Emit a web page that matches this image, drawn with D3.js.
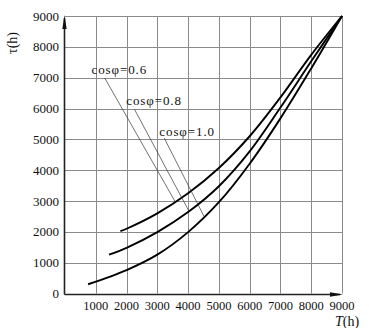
<!DOCTYPE html>
<html>
<head>
<meta charset="utf-8">
<script src="https://cdn.jsdelivr.net/npm/d3@7"></script>
<style>
  html, body { margin: 0; padding: 0; background: #fff; }
  svg { display: block; }
  text { font-family: "Liberation Serif", "DejaVu Serif", serif; fill: #111; }
</style>
</head>
<body>
<svg id="chart" width="369" height="328"></svg>
<script>
// ---- data ----
const xTicks = [1000, 2000, 3000, 4000, 5000, 6000, 7000, 8000, 9000];
const yTicks = [0, 1000, 2000, 3000, 4000, 5000, 6000, 7000, 8000, 9000];
const seriesNames = ["cosφ=0.6", "cosφ=0.8", "cosφ=1.0"];
const curve06 = [[1800, 2020], [2000, 2100], [3000, 2600], [4000, 3250], [5000, 4070], [6000, 5100], [7000, 6360], [8000, 7740], [9000, 9000]];
const curve08 = [[1430, 1260], [2000, 1480], [3000, 1990], [4000, 2640], [5000, 3480], [6000, 4610], [7000, 6030], [8000, 7530], [9000, 9000]];
const curve10 = [[750, 300], [2000, 760], [3000, 1260], [4000, 1990], [5000, 2960], [6000, 4210], [7000, 5680], [8000, 7300], [9000, 9000]];
const seriesData = [curve06, curve08, curve10];
// label anchor (T, τ) of each annotation, start of its leader line, and T where the leader meets the curve
const labelAt = [[860, 7120], [1990, 6110], [3065, 5105]];
const leaderStart = [[1290, 6990], [2260, 5970], [3225, 5040]];
const leaderEndT = [3580, 4030, 4520];

// ---- chart ----
const svg = d3.select("#chart");
const x = d3.scaleLinear().domain([0, 9000]).range([65, 342]);
const y = d3.scaleLinear().domain([0, 9000]).range([293.5, 16]);

const gridColor = "#8a8a8a";
const g = svg.append("g");

// grid lines
g.selectAll("line.vgrid").data(xTicks).join("line")
  .attr("x1", d => Math.round(x(d)) + 0.5).attr("x2", d => Math.round(x(d)) + 0.5)
  .attr("y1", y(9000)).attr("y2", y(0))
  .attr("stroke", gridColor).attr("stroke-width", 1);
g.selectAll("line.hgrid").data(yTicks.filter(d => d > 0)).join("line")
  .attr("x1", x(0)).attr("x2", x(9000))
  .attr("y1", d => Math.round(y(d)) + 0.5).attr("y2", d => Math.round(y(d)) + 0.5)
  .attr("stroke", gridColor).attr("stroke-width", 1);

// axes (left & bottom), darker
const x0 = Math.round(x(0)) - 0.5;
const y0 = Math.round(y(0)) + 0.5;
g.append("line").attr("x1", x0).attr("x2", x0).attr("y1", y(9000) + 2).attr("y2", y0)
  .attr("stroke", "#222").attr("stroke-width", 1.6);
g.append("line").attr("x1", x0).attr("x2", x(9000) - 2).attr("y1", y0).attr("y2", y0)
  .attr("stroke", "#222").attr("stroke-width", 1.6);
// arrowheads
g.append("path")
  .attr("d", `M${x0},${y(9000) - 1} L${x0 - 2.2},${y(9000) + 13} L${x0 + 2.2},${y(9000) + 13} Z`)
  .attr("fill", "#111");
g.append("path")
  .attr("d", `M${x(9000) + 1},${y0} L${x(9000) - 12},${y0 - 2.2} L${x(9000) - 12},${y0 + 2.2} Z`)
  .attr("fill", "#111");

// y tick labels
g.selectAll("text.ytick").data(yTicks).join("text")
  .attr("x", x(0) - 6).attr("y", d => y(d) + 4.5)
  .attr("text-anchor", "end").attr("font-size", 13)
  .text(d => d);
// x tick labels
g.selectAll("text.xtick").data(xTicks).join("text")
  .attr("x", d => x(d)).attr("y", 309.5)
  .attr("text-anchor", "middle").attr("font-size", 12.5)
  .text(d => d);

// axis titles
svg.append("text")
  .attr("transform", "translate(17,43) rotate(-90)")
  .attr("text-anchor", "middle").attr("font-size", 14)
  .text("τ(h)");
const tt = svg.append("text").attr("x", 347).attr("y", 326)
  .attr("text-anchor", "middle").attr("font-size", 14);
tt.append("tspan").attr("font-style", "italic").text("T");
tt.append("tspan").text("(h)");

// curves
const line = d3.line().x(d => x(d[0])).y(d => y(d[1])).curve(d3.curveCatmullRom.alpha(0.5));
g.selectAll("path.curve").data(seriesData).join("path")
  .attr("d", line)
  .attr("fill", "none").attr("stroke", "#000").attr("stroke-width", 1.9);

// leader lines & labels
function tauAt(data, T) {
  for (let i = 1; i < data.length; i++) {
    if (T <= data[i][0]) {
      const a = data[i - 1], b = data[i];
      return a[1] + (b[1] - a[1]) * (T - a[0]) / (b[0] - a[0]);
    }
  }
  return data[data.length - 1][1];
}
seriesNames.forEach((name, i) => {
  const endT = leaderEndT[i];
  g.append("line")
    .attr("x1", x(leaderStart[i][0])).attr("y1", y(leaderStart[i][1]))
    .attr("x2", x(endT)).attr("y2", y(tauAt(seriesData[i], endT)))
    .attr("stroke", "#333").attr("stroke-width", 0.7);
  g.append("text")
    .attr("x", x(labelAt[i][0])).attr("y", y(labelAt[i][1]))
    .attr("font-size", 13).attr("letter-spacing", 0.9)
    .text(name);
});
</script>
</body>
</html>
